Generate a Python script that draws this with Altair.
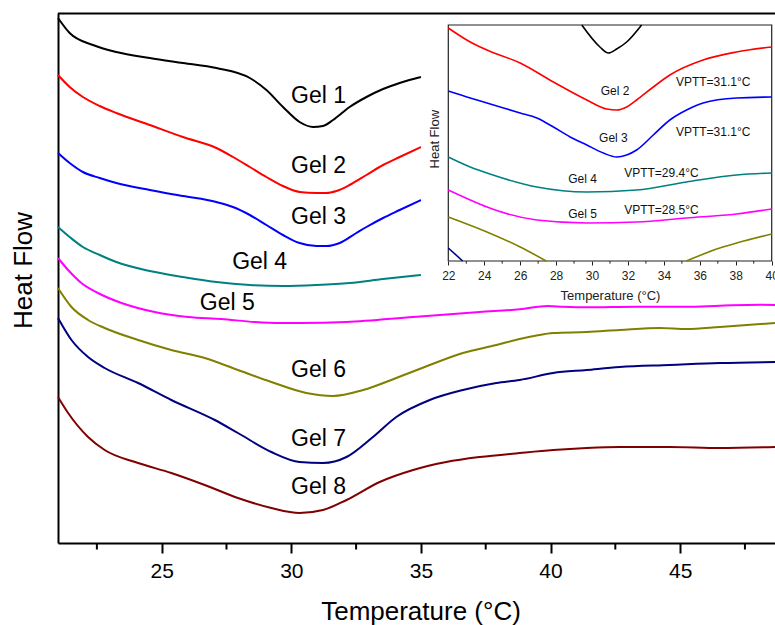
import altair as alt
import pandas as pd

FONT = "Liberation Sans"

GELS = ["Gel 1", "Gel 2", "Gel 3", "Gel 4", "Gel 5", "Gel 6", "Gel 7", "Gel 8"]
COLORS = ["#000000", "#ff0000", "#0000ff", "#008080", "#ff00ff", "#808000", "#000080", "#800000"]

# ---------------- main DSC curves (Temperature in °C, heat flow in arbitrary units) ----------------
GEL1_T = [21.0, 21.45, 22.35, 23.25, 24.54, 25.82, 27.11, 28.4, 29.04, 29.68, 30.32, 30.84, 31.22, 31.61, 32.25, 32.9, 33.54, 34.18, 35.0]
GEL1_HF = [525, 510, 498, 491, 485, 480, 475, 465, 453, 436, 421, 416, 417, 423, 436, 446, 454, 460, 466]

GEL2_T = [21.0, 21.45, 21.96, 22.61, 23.25, 24.54, 25.82, 27.11, 27.75, 28.4, 29.04, 29.68, 30.32, 30.97, 31.35, 31.74, 32.25, 32.9, 33.54, 34.18, 35.0]
GEL2_HF = [468, 456, 446, 437, 430, 418, 406, 395, 386, 376, 366, 357, 351, 350, 350, 352, 358, 368, 378, 386, 396]

GEL3_T = [21.0, 21.45, 21.96, 22.61, 23.25, 24.54, 25.82, 27.11, 27.75, 28.4, 29.04, 29.68, 30.32, 30.97, 31.35, 31.87, 32.51, 32.9, 33.54, 34.18, 35.0]
GEL3_HF = [390, 380, 371, 365, 360, 353, 347, 341, 336, 328, 318, 308, 300, 297, 297, 300, 310, 316, 325, 333, 343]

GEL4_T = [21.0, 21.45, 21.96, 22.61, 23.25, 24.54, 25.82, 27.11, 28.4, 29.68, 30.97, 32.25, 33.54, 35.0]
GEL4_HF = [316, 306, 296, 288, 281, 272, 266, 261, 258, 257, 258, 260, 264, 268]

GEL5_T = [21.0, 21.39, 21.9, 22.54, 23.45, 24.73, 26.02, 27.3, 28.59, 29.55, 30.32, 32.13, 34.7, 37.27, 38.81, 39.9, 40.48, 41.39, 43.31, 45.24, 46.53, 48.07, 48.66]
GEL5_HF = [285, 273, 260, 250, 240, 231, 226, 224, 221, 220, 220, 221, 226, 231, 233.7, 237, 236.3, 235.7, 236.3, 236.3, 237.3, 238.3, 238]

GEL6_T = [21.0, 21.52, 22.16, 22.8, 24.09, 25.37, 26.66, 27.94, 29.23, 30.58, 31.61, 32.77, 34.05, 35.34, 36.62, 37.91, 38.81, 39.46, 40.1, 41.39, 42.67, 44.22, 45.24, 46.53, 48.66]
GEL6_HF = [255, 236, 223, 215, 203, 193, 185, 173, 161, 150, 147, 153, 165, 178, 190, 198, 204, 207.5, 210, 211, 213, 215, 214, 216, 220]

GEL7_T = [21.0, 21.52, 22.16, 22.8, 24.09, 25.37, 27.05, 27.94, 29.23, 30.32, 31.22, 32.13, 33.15, 34.05, 35.34, 36.62, 37.91, 38.81, 40.1, 41.39, 42.67, 44.6, 46.53, 48.66]
GEL7_HF = [225, 203, 186, 175, 160, 143, 123, 110, 91, 81, 80, 86, 106, 126, 143, 153, 160, 163, 170, 173, 176, 178, 180, 181]

GEL8_T = [21.0, 21.39, 22.16, 22.8, 24.09, 25.37, 26.66, 27.94, 29.23, 30.32, 31.22, 32.13, 33.41, 34.7, 35.98, 37.27, 38.81, 40.1, 41.39, 42.67, 44.6, 46.53, 48.66]
GEL8_HF = [146, 130, 106, 93, 80, 70, 58, 45, 35, 30, 33, 43, 61, 73, 81, 86, 90, 93, 95, 96, 96, 95, 96]

MAIN_T = [GEL1_T, GEL2_T, GEL3_T, GEL4_T, GEL5_T, GEL6_T, GEL7_T, GEL8_T]
MAIN_HF = [GEL1_HF, GEL2_HF, GEL3_HF, GEL4_HF, GEL5_HF, GEL6_HF, GEL7_HF, GEL8_HF]

LABEL_TEXT = ["Gel 1", "Gel 2", "Gel 3", "Gel 4", "Gel 5", "Gel 6", "Gel 7", "Gel 8"]
LABEL_T = [31.05, 31.05, 31.05, 28.78, 27.53, 31.05, 31.05, 31.05]
LABEL_HF = [440, 370, 319, 274, 233, 166, 97, 49]

MAJOR_TICKS = [25, 30, 35, 40, 45]
MINOR_TICKS = [22.5, 27.5, 32.5, 37.5, 42.5, 47.5]

# ---------------- inset (22-40 °C zoom) ----------------
INSET_GEL = ["Gel 1", "Gel 2", "Gel 3", "Gel 4", "Gel 5", "Gel 6", "Gel 6", "Gel 7"]
INSET_SEG = ["g1", "g2", "g3", "g4", "g5", "g6a", "g6b", "g7"]
INSET_T = [
    [29.43, 30.44, 30.91, 31.37, 31.93, 32.76],
    [22.0, 23.22, 24.15, 26.0, 27.85, 29.71, 30.82, 31.37, 31.93, 32.48, 33.41, 34.33, 36.18, 38.04, 40.0],
    [22.0, 23.22, 24.15, 26.0, 26.93, 27.85, 28.78, 29.71, 30.63, 31.37, 31.93, 32.48, 33.41, 34.33, 35.26, 36.18, 38.04, 40.0],
    [22.0, 23.22, 24.15, 26.93, 29.71, 32.48, 35.26, 38.04, 40.0],
    [22.0, 23.22, 24.15, 26.93, 29.71, 32.48, 35.26, 38.04, 40.0],
    [22.0, 24.15, 26.0, 27.45],
    [35.25, 37.11, 38.04, 40.0],
    [22.0, 22.8],
]
INSET_HF = [
    [236, 214, 208, 212, 219, 236],
    [233, 219, 211, 198, 179, 161, 152, 151, 154, 161, 174, 186, 201, 209, 214],
    [170, 163, 158, 148, 143, 134, 124, 116, 108, 104, 106, 111, 126, 141, 151, 158, 163, 164],
    [104, 94, 88, 74, 69, 71, 79, 86, 88],
    [71, 61, 54, 41, 38, 39, 43, 47, 52],
    [44, 29, 14, 0],
    [0, 13, 18, 27],
    [13, 0],
]
INSET_LABEL_TEXT = ["Gel 2", "VPTT=31.1°C", "Gel 3", "VPTT=31.1°C", "Gel 4", "VPTT=29.4°C", "Gel 5", "VPTT=28.5°C"]
INSET_LABEL_T = [31.28, 36.74, 31.19, 36.74, 29.47, 33.86, 29.47, 33.86]
INSET_LABEL_HF = [166, 175, 119.3, 125, 77.7, 83.7, 42.7, 47]
INSET_MAJOR = [22, 24, 26, 28, 30, 32, 34, 36, 38, 40]
INSET_MINOR = [23, 25, 27, 29, 31, 33, 35, 37, 39]

# ---------------- tables ----------------
main_df = pd.DataFrame(
    [{"gel": g, "T": t, "HF": h} for g, ts, hs in zip(GELS, MAIN_T, MAIN_HF) for t, h in zip(ts, hs)]
)
label_df = pd.DataFrame({"label": LABEL_TEXT, "T": LABEL_T, "HF": LABEL_HF})
minor_df = pd.DataFrame({"T": MINOR_TICKS})
one_df = pd.DataFrame({"a": [0]})

inset_df = pd.DataFrame(
    [{"gel": g, "seg": s, "T": t, "HF": h}
     for g, s, ts, hs in zip(INSET_GEL, INSET_SEG, INSET_T, INSET_HF) for t, h in zip(ts, hs)]
)
inset_label_df = pd.DataFrame({"label": INSET_LABEL_TEXT, "T": INSET_LABEL_T, "HF": INSET_LABEL_HF})
inset_minor_df = pd.DataFrame({"T": INSET_MINOR})
frame_df = pd.DataFrame({"T0": [22], "T1": [40], "H0": [0], "H1": [236]})

# ---------------- scales ----------------
W, H = 717, 530
x_main = alt.Scale(domain=[21, 48.66], nice=False, zero=False)
y_main = alt.Scale(domain=[0, 530], nice=False, zero=False)
x_inset = alt.Scale(domain=[22, 40], range=[390.3, 713.7], nice=False, zero=False)
y_inset = alt.Scale(domain=[0, 236], range=[248, 12], nice=False, zero=False)
color_scale = alt.Scale(domain=GELS, range=COLORS)

main_x_axis = alt.Axis(
    orient="bottom", values=MAJOR_TICKS, title="Temperature (°C)", grid=False,
    tickSize=10, tickWidth=2, tickColor="black",
    domainColor="black", domainWidth=2,
    labelFont=FONT, labelFontSize=21, labelColor="black", labelPadding=7,
    labelFlush=False, labelOverlap=False,
    titleFont=FONT, titleFontSize=26, titleFontWeight="normal", titleColor="black",
    titleX=362.5, titleY=76, titleBaseline="alphabetic",
)
main_y_axis = alt.Axis(
    orient="left", title="Heat Flow", grid=False, ticks=False, labels=False,
    domainColor="black", domainWidth=2,
    titleFont=FONT, titleFontSize=26, titleFontWeight="normal", titleColor="black",
    titleAngle=270, titleX=-26.6, titleY=257, titleBaseline="alphabetic",
)
inset_x_axis = alt.Axis(
    orient="bottom", offset=-282, values=INSET_MAJOR, title="Temperature (°C)", grid=False,
    domain=False, tickSize=4, tickWidth=1, tickColor="#222222",
    labelFont=FONT, labelFontSize=12, labelColor="#222222", labelPadding=5,
    labelFlush=False, labelOverlap=False,
    titleFont=FONT, titleFontSize=13, titleFontWeight="normal", titleColor="#222222",
    titleY=38.3, titleBaseline="alphabetic",
)
inset_y_axis = alt.Axis(
    orient="left", offset=-390.3, title="Heat Flow", grid=False,
    domain=False, ticks=False, labels=False,
    titleFont=FONT, titleFontSize=13, titleFontWeight="normal", titleColor="#222222",
    titleAngle=270, titleX=-10.3, titleY=125.7, titleBaseline="alphabetic",
)

# ---------------- main layers ----------------
main_lines = alt.Chart(main_df).mark_line(strokeWidth=2, interpolate="monotone").encode(
    x=alt.X("T:Q", scale=x_main, axis=main_x_axis),
    y=alt.Y("HF:Q", scale=y_main, axis=main_y_axis),
    color=alt.Color("gel:N", scale=color_scale, legend=None),
)
main_text = alt.Chart(label_df).mark_text(
    font=FONT, fontSize=23, align="center", baseline="alphabetic", color="black"
).encode(
    x=alt.X("T:Q", scale=x_main, axis=None),
    y=alt.Y("HF:Q", scale=y_main, axis=None),
    text="label:N",
)
main_minor = alt.Chart(minor_df).mark_rule(color="black", strokeWidth=2).encode(
    x=alt.X("T:Q", scale=x_main, axis=None),
    y=alt.value(H),
    y2=alt.value(H + 6.5),
)
top_border = alt.Chart(one_df).mark_rule(color="black", strokeWidth=2).encode(
    x=alt.value(0), x2=alt.value(W), y=alt.value(0.5)
)

# ---------------- inset layers ----------------
inset_frame = alt.Chart(frame_df).mark_rect(fill="white", stroke="#222222", strokeWidth=1.2).encode(
    x=alt.X("T0:Q", scale=x_inset, axis=None),
    x2="T1:Q",
    y=alt.Y("H0:Q", scale=y_inset, axis=None),
    y2="H1:Q",
)
inset_lines = alt.Chart(inset_df).mark_line(strokeWidth=1.6, interpolate="monotone").encode(
    x=alt.X("T:Q", scale=x_inset, axis=inset_x_axis),
    y=alt.Y("HF:Q", scale=y_inset, axis=inset_y_axis),
    color=alt.Color("gel:N", scale=color_scale, legend=None),
    detail="seg:N",
)
inset_text = alt.Chart(inset_label_df).mark_text(
    font=FONT, fontSize=12, align="center", baseline="alphabetic", color="#111111"
).encode(
    x=alt.X("T:Q", scale=x_inset, axis=None),
    y=alt.Y("HF:Q", scale=y_inset, axis=None),
    text="label:N",
)
inset_minor = alt.Chart(inset_minor_df).mark_rule(color="#222222", strokeWidth=1).encode(
    x=alt.X("T:Q", scale=x_inset, axis=None),
    y=alt.value(248),
    y2=alt.value(250.7),
)

chart = (
    alt.layer(
        main_lines, main_text, main_minor, top_border,
        inset_frame, inset_lines, inset_text, inset_minor,
    )
    .resolve_scale(x="independent", y="independent", color="independent")
    .properties(
        width=W, height=H,
        padding={"left": 58, "top": 13, "right": 0, "bottom": 82},
        autosize=alt.AutoSizeParams(type="none"),
        background="white",
    )
    .configure_view(stroke=None)
)

chart.save("out.html", embed_options={"renderer": "svg", "actions": False})
